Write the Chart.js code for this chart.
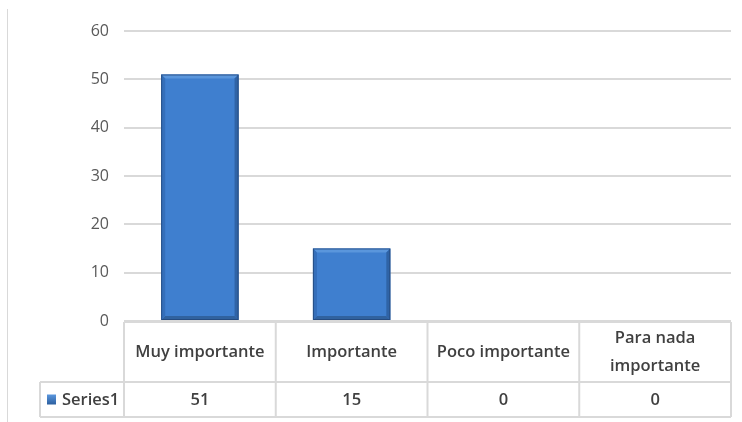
<!DOCTYPE html>
<html lang="es">
<head>
    <meta charset="UTF-8"/>
    <title>Importancia</title>
    <script src="https://cdn.jsdelivr.net/npm/chart.js"></script>
    <style>
        body { margin: 0; background: #fff; }
        #wrap { width: 742px; height: 422px; position: relative; }
    </style>
</head>
<body>
    <div id="wrap"><canvas id="chart"></canvas></div>

    <script>
        // data
        const categories = ['Muy importante', 'Importante', 'Poco importante', ['Para nada', 'importante']];
        const seriesName = 'Series1';
        const values = [51, 15, 0, 0];
        const yTicks = [0, 10, 20, 30, 40, 50, 60];

        const GRID = '#d9d9d9';
        const TEXT = '#404040';
        const FONT = '"Open Sans", sans-serif';

        // bar fill: darker at the sides, lighter in the middle
        function barFill(ctx) {
            const bar = ctx.element;
            if (!bar || bar.width === undefined) return '#3f7fcf';
            const c = ctx.chart.ctx;
            const g = c.createLinearGradient(bar.x - bar.width / 2, 0, bar.x + bar.width / 2, 0);
            g.addColorStop(0, '#3470bd');
            g.addColorStop(0.15, '#3c7acb');
            g.addColorStop(0.5, '#3f7fd0');
            g.addColorStop(0.85, '#3c7acb');
            g.addColorStop(1, '#3269b3');
            return g;
        }

        // bevel on top of each bar
        const bevel = {
            id: 'bevel',
            afterDatasetsDraw(chart) {
                const c = chart.ctx;
                chart.getDatasetMeta(0).data.forEach(bar => {
                    const h = bar.base - bar.y;
                    if (h < 2) return;
                    const l = bar.x - bar.width / 2, r = bar.x + bar.width / 2, t = bar.y, b = bar.base;
                    const d = Math.min(4, h / 2);
                    c.save();
                    // top face
                    c.fillStyle = '#5a96dc';
                    c.beginPath();
                    c.moveTo(l, t); c.lineTo(r, t); c.lineTo(r - d, t + d); c.lineTo(l + d, t + d); c.closePath();
                    c.fill();
                    // bottom face
                    c.fillStyle = '#30629f';
                    c.beginPath();
                    c.moveTo(l, b); c.lineTo(r, b); c.lineTo(r - d, b - d); c.lineTo(l + d, b - d); c.closePath();
                    c.fill();
                    // sides
                    c.fillStyle = '#356fba';
                    c.beginPath();
                    c.moveTo(l, t); c.lineTo(l + d, t + d); c.lineTo(l + d, b - d); c.lineTo(l, b); c.closePath();
                    c.fill();
                    c.fillStyle = '#2f63a6';
                    c.beginPath();
                    c.moveTo(r, t); c.lineTo(r - d, t + d); c.lineTo(r - d, b - d); c.lineTo(r, b); c.closePath();
                    c.fill();
                    c.strokeStyle = 'rgba(35, 70, 120, 0.8)';
                    c.lineWidth = 1;
                    c.strokeRect(l + 0.5, t + 0.5, r - l - 1, b - t - 1);
                    c.restore();
                });
            }
        };

        // data table under the plot
        const dataTable = {
            id: 'dataTable',
            afterDraw(chart) {
                const c = chart.ctx;
                const area = chart.chartArea;
                const x = chart.scales.x;
                const n = categories.length;
                const step = (area.right - area.left) / n;
                const top = area.bottom + 1;
                const mid = top + 60;
                const bottom = mid + 35;
                const legendLeft = 40;

                c.save();
                // outer frame line on the far left
                c.strokeStyle = GRID;
                c.lineWidth = 1;
                c.beginPath();
                c.moveTo(7.5, 9); c.lineTo(7.5, 422);
                c.stroke();

                c.lineWidth = 2;
                c.beginPath();
                c.moveTo(area.left, top); c.lineTo(area.right, top);
                c.moveTo(legendLeft, mid); c.lineTo(area.right, mid);
                c.moveTo(legendLeft, bottom); c.lineTo(area.right, bottom);
                c.moveTo(legendLeft, mid); c.lineTo(legendLeft, bottom);
                for (let i = 0; i <= n; i++) {
                    const px = area.left + step * i;
                    c.moveTo(px, top); c.lineTo(px, bottom);
                }
                c.stroke();

                c.fillStyle = TEXT;
                c.textAlign = 'center';
                c.textBaseline = 'middle';
                c.font = '600 16.5px ' + FONT;
                categories.forEach((cat, i) => {
                    const cx = x.getPixelForValue(i);
                    const lines = Array.isArray(cat) ? cat : [cat];
                    const lh = 28;
                    lines.forEach((ln, k) => {
                        c.fillText(ln, cx, (top + mid) / 2 + (k - (lines.length - 1) / 2) * lh);
                    });
                    c.fillText(String(values[i]), cx, (mid + bottom) / 2 + 1);
                });

                // legend key
                const ky = (mid + bottom) / 2;
                const kg = c.createLinearGradient(0, ky - 5, 0, ky + 5);
                kg.addColorStop(0, '#5b97de');
                kg.addColorStop(1, '#2c5f9f');
                c.fillStyle = kg;
                c.fillRect(47, ky - 5, 9, 10);
                c.fillStyle = TEXT;
                c.textAlign = 'left';
                c.fillText(seriesName, 62, ky + 1);
                c.restore();
            }
        };

        new Chart(document.getElementById('chart'), {
            type: 'bar',
            data: {
                labels: categories,
                datasets: [{
                    label: seriesName,
                    data: values,
                    backgroundColor: barFill,
                    borderWidth: 0,
                    categoryPercentage: 1,
                    barPercentage: 0.51
                }]
            },
            options: {
                responsive: true,
                maintainAspectRatio: false,
                animation: false,
                layout: { padding: { left: 0, right: 11, top: 31, bottom: 101 } },
                plugins: { legend: { display: false }, tooltip: { enabled: false } },
                scales: {
                    x: { display: false },
                    y: {
                        min: yTicks[0],
                        max: yTicks[yTicks.length - 1],
                        afterFit(scale) { scale.width = 124; },
                        afterBuildTicks(scale) { scale.ticks = yTicks.map(v => ({ value: v })); },
                        border: { display: false },
                        grid: { color: GRID, lineWidth: 2, drawTicks: false },
                        ticks: { color: '#595959', padding: 15, font: { family: FONT, size: 16 } }
                    }
                }
            },
            plugins: [bevel, dataTable]
        });
    </script>
</body>
</html>
